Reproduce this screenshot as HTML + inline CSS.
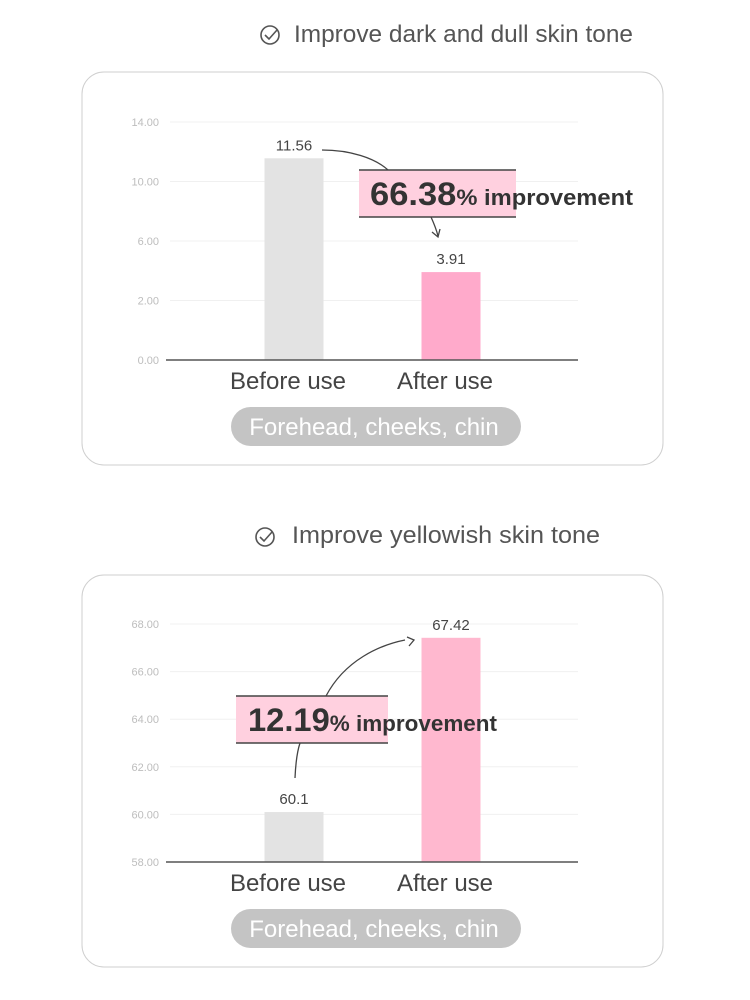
<!DOCTYPE html>
<html><head><meta charset="utf-8"><style>
body{margin:0;background:#fff;width:750px;height:1000px;overflow:hidden;font-family:"Liberation Sans",sans-serif}
svg{display:block}
</style></head><body>
<svg width="750" height="1000" id="root">
<g>
 <circle cx="270" cy="35" r="9" fill="none" stroke="#555" stroke-width="1.6"/>
 <path d="M265 35 l4 4 l8 -9" fill="none" stroke="#555" stroke-width="1.6"/>
 <text x="294" y="42" font-size="24" fill="#555" textLength="339" lengthAdjust="spacingAndGlyphs">Improve dark and dull skin tone</text>
</g>
<rect x="82" y="72" width="581" height="393" rx="22" fill="#fff" stroke="#cfcfcf"/>
<g id="c1"></g>
<g>
 <circle cx="265" cy="537" r="9" fill="none" stroke="#555" stroke-width="1.6"/>
 <path d="M260 537 l4 4 l8 -9" fill="none" stroke="#555" stroke-width="1.6"/>
 <text x="292" y="543" font-size="24" fill="#555" textLength="308" lengthAdjust="spacingAndGlyphs">Improve yellowish skin tone</text>
</g>
<rect x="82" y="575" width="581" height="392" rx="22" fill="#fff" stroke="#cfcfcf"/>
<g id="c2"></g>
</svg>
<script>
const categories = ["Before use","After use"];
const c1Ticks = [0,2,6,10,14];
const c1TickLabels = ["0.00","2.00","6.00","10.00","14.00"];
const c1Values = [11.56,3.91];
const c1Labels = ["11.56","3.91"];
const c2Ticks = [58,60,62,64,66,68];
const c2TickLabels = ["58.00","60.00","62.00","64.00","66.00","68.00"];
const c2Values = [60.1,67.42];
const c2Labels = ["60.1","67.42"];
const NS="http://www.w3.org/2000/svg";
function mk(p,tag,a,txt){const e=document.createElementNS(NS,tag);for(const k in a)e.setAttribute(k,a[k]);if(txt!==undefined)e.textContent=txt;p.appendChild(e);return e;}
function scaleFor(ticks,y0,y1){
 const step=(y0-y1)/(ticks.length-1);
 return v=>{
  for(let i=0;i<ticks.length-1;i++){
   if(v<=ticks[i+1]||i===ticks.length-2){
    const f=(v-ticks[i])/(ticks[i+1]-ticks[i]);
    return y0-(i+f)*step;}
  }};
}
function drawChart(g,ticks,tl,vals,labs,y0,y1,colors){
 const y=scaleFor(ticks,y0,y1);
 const xc=[294,451];
 ticks.forEach((t,i)=>{
  const ln=mk(g,'line',{x1:170,x2:578,y1:y(t),y2:y(t),stroke:'#f0f0f0'});
  
  
  const tx=mk(g,'text',{x:159,y:y(t)+4,'font-size':11,fill:'#bdbdbd','text-anchor':'end'},tl[i]);
  
  
 });
 vals.forEach((v,i)=>{
  const b=mk(g,'rect',{x:xc[i]-29.5,y:y(v),width:59,height:y0-y(v),fill:colors[i]});
  
  
  const t=mk(g,'text',{x:xc[i],y:y(v)-8,'font-size':15,fill:'#444','text-anchor':'middle'},labs[i]);
  
  
  const c=mk(g,'text',{x:xc[i]-6,y:y0+29,'font-size':24,fill:'#444','text-anchor':'middle'},categories[i]);
  
  
 });
 const ax=mk(g,'line',{x1:166,x2:578,y1:y0,y2:y0,stroke:'#555','stroke-width':1.5});
 
 
 const p=mk(g,'rect',{x:231,y:y0+47,width:290,height:39,rx:19.5,fill:'#c4c4c4'});
 
 
 const pt=mk(g,'text',{x:374,y:y0+75,'font-size':24,fill:'#fff','text-anchor':'middle'},'Forehead, cheeks, chin');
 
 
}
const g1=document.getElementById('c1'),g2=document.getElementById('c2');
drawChart(g1,c1Ticks,c1TickLabels,c1Values,c1Labels,360,122,['#e3e3e3','#ffaacb']);
drawChart(g2,c2Ticks,c2TickLabels,c2Values,c2Labels,862,624,['#e3e3e3','#ffb8cf']);
function callout(g,x,yT,w,big,tx,len){
 const r=mk(g,'rect',{x:x,y:yT,width:w,height:47,fill:'#ffd0df'});
 
 
 mk(g,'line',{x1:x,x2:x+w,y1:yT,y2:yT,stroke:'#444','stroke-width':1.5});
 mk(g,'line',{x1:x,x2:x+w,y1:yT+47,y2:yT+47,stroke:'#444','stroke-width':1.5});
 const t=mk(g,'text',{x:tx,y:yT+35,fill:'#333','font-weight':'bold',textLength:len,lengthAdjust:'spacingAndGlyphs'});
 
 
 mk(t,'tspan',{'font-size':32},big);
 mk(t,'tspan',{'font-size':22},'% improvement');
}
mk(g1,'path',{d:'M322 150 C350 150 375 158 388 170',fill:'none',stroke:'#444','stroke-width':1.3});
mk(g1,'path',{d:'M431 217 Q436 228 438 236 M432 232 l6 5 l2 -8',fill:'none',stroke:'#444','stroke-width':1.3});
callout(g1,359,170,157,'66.38',370,263);
mk(g2,'path',{d:'M295 778 Q296 755 300 743 M326 696 C345 660 380 645 405 640 M407 637 l7 3 l-5 6',fill:'none',stroke:'#444','stroke-width':1.3});
callout(g2,236,696,152,'12.19',248,249);
</script>
</body></html>
